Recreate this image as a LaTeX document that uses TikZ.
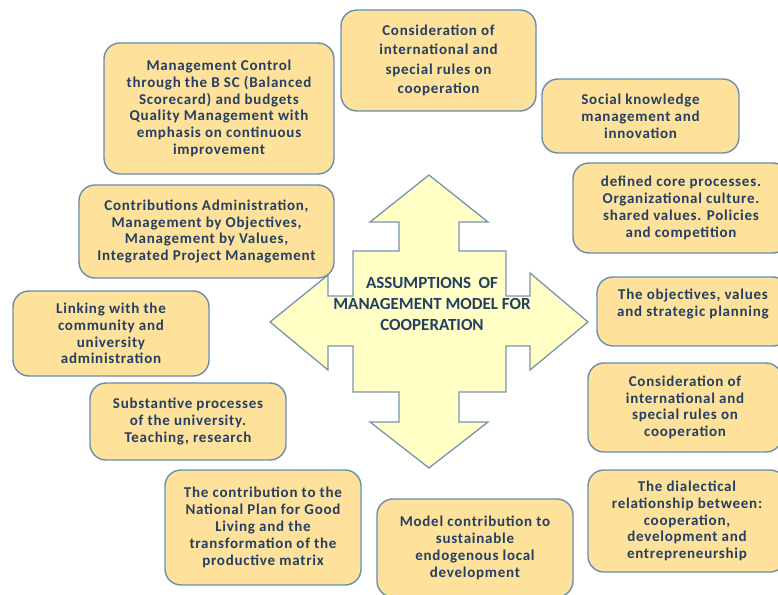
\documentclass[tikz,border=0pt]{standalone}
\usepackage{fontspec}
\setmainfont{Carlito}
\newfontfamily\boxfont[LetterSpace=5]{Carlito}
\definecolor{boxfill}{HTML}{FEE19A}
\definecolor{boxline}{HTML}{6A8CB0}
\definecolor{arrowfill}{HTML}{FFFFC6}
\definecolor{arrowline}{HTML}{7894B0}
\definecolor{ink}{HTML}{243F63}
\tikzset{
  idea/.style={draw=boxline, fill=boxfill, line width=1.4bp, rounded corners=16bp,
    align=center, text=ink, inner sep=0pt,
    font=\boxfont\fontsize{15bp}{16.8bp}\selectfont\bfseries},
  hub/.style={align=center, text=ink, inner sep=0pt,
    font=\fontsize{17bp}{21bp}\selectfont\bfseries},
}
\begin{document}
\begin{tikzpicture}[x=1bp, y=-1bp]
\useasboundingbox (0,0) rectangle (778,595);
\begin{scope}
\clip (0,0) rectangle (778,595);

% four-headed arrow in the middle
\draw[fill=arrowfill, draw=arrowline, line width=1.3bp, line join=miter]
  (429,175) -- (488,222) -- (459,222) -- (459,251) -- (506,251) -- (506,296)
  -- (530,296) -- (530,273) -- (588,322) -- (530,370) -- (530,346) -- (506,346)
  -- (506,392) -- (459,392) -- (459,422) -- (488,422) -- (429,468) -- (370,422)
  -- (399,422) -- (399,392) -- (353,392) -- (353,346) -- (328,346) -- (328,370)
  -- (270,322) -- (328,275) -- (328,296) -- (353,296) -- (353,251) -- (399,251)
  -- (399,222) -- (370,222) -- cycle;
\node[hub] (core) at (432,304) {ASSUMPTIONS\ \ OF\\MANAGEMENT MODEL FOR\\COOPERATION};

% surrounding assumptions
\node[idea, minimum width=230bp, minimum height=131bp] (bsc) at (219,108.5)
  {Management Control\\through the B SC (Balanced\\Scorecard) and budgets\\Quality Management with\\emphasis on continuous\\improvement};
\node[idea, minimum width=255bp, minimum height=93bp] (admin) at (206.5,231.5)
  {Contributions Administration,\\Management by Objectives,\\Management by Values,\\Integrated Project Management};
\node[idea, minimum width=196bp, minimum height=85bp] (link) at (111,333.5)
  {Linking with the\\community and\\university\\administration};
\node[idea, minimum width=196bp, minimum height=77bp] (subst) at (188,421.5)
  {Substantive processes\\of the university.\\Teaching, research};
\node[idea, minimum width=196bp, minimum height=115bp] (plan) at (263,527.5)
  {The contribution to the\\National Plan for Good\\Living and the\\transformation of the\\productive matrix};
\node[idea, minimum width=196bp, minimum height=98bp] (local) at (475,548)
  {Model contribution to\\sustainable\\endogenous local\\development};
\node[idea, minimum width=198bp, minimum height=102bp] (dial) at (687,521)
  {The dialectical\\relationship between:\\cooperation,\\development and\\entrepreneurship};
\node[idea, minimum width=194bp, minimum height=89bp] (rules2) at (685,407.5)
  {Consideration of\\international and\\special rules on\\cooperation};
\node[idea, minimum width=192bp, minimum height=69bp] (obj) at (693,311.5)
  {The objectives, values\\and strategic planning\\\mbox{}};
\node[idea, minimum width=216bp, minimum height=90bp] (core2) at (681,208)
  {defined core processes.\\Organizational culture.\\shared values. Policies\\and competition};
\node[idea, minimum width=197bp, minimum height=74bp] (social) at (640.5,116)
  {Social knowledge\\management and\\innovation};
\node[idea, minimum width=195bp, minimum height=101bp,
  font=\boxfont\fontsize{15bp}{19.5bp}\selectfont\bfseries] (rules1) at (438.5,60.5)
  {Consideration of\\international and\\special rules on\\cooperation};
\end{scope}
\end{tikzpicture}
\end{document}
